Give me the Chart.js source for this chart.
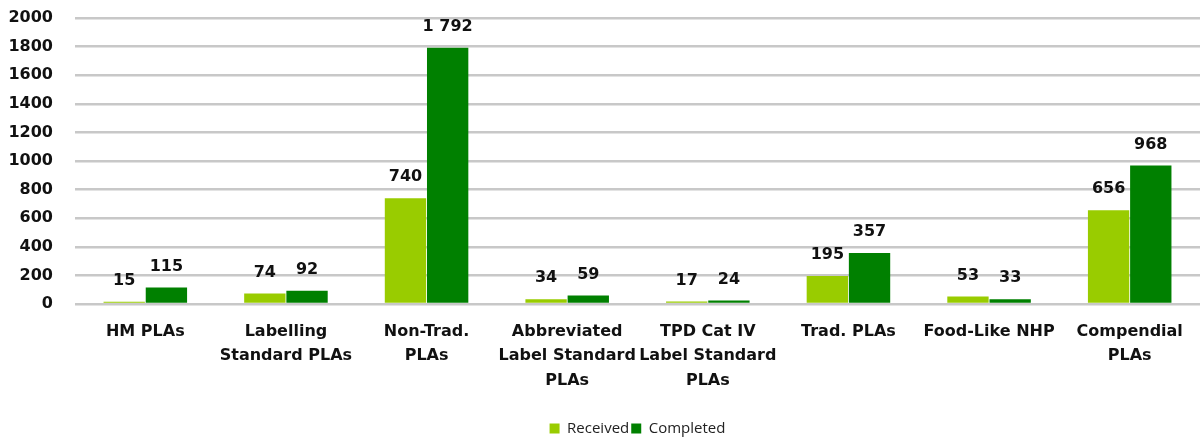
<!DOCTYPE html>
<html>
<head>
<meta charset="utf-8">
<script src="https://cdn.jsdelivr.net/npm/chart.js@4"></script>
<style>
  html, body { margin: 0; padding: 0; background: #fff; }
  #wrap { width: 1202px; height: 439px; }
</style>
</head>
<body>
<div id="wrap"><canvas id="plaChart"></canvas></div>
<script>
// Categories and values
const categories = [
    'HM PLAs',
    ['Labelling', 'Standard PLAs'],
    ['Non-Trad.', 'PLAs'],
    ['Abbreviated', 'Label Standard', 'PLAs'],
    ['TPD Cat IV', 'Label Standard', 'PLAs'],
    'Trad. PLAs',
    'Food-Like NHP',
    ['Compendial', 'PLAs']
];
const received = [15, 74, 740, 34, 17, 195, 53, 656];
const completed = [115, 92, 1792, 59, 24, 357, 33, 968];
const yTicks = [0, 200, 400, 600, 800, 1000, 1200, 1400, 1600, 1800, 2000];

const boldFont = { family: 'DejaVu Sans', size: 16, weight: 'bold' };

// Draw the value above each bar, with a space as thousands separator
const barLabels = {
    id: 'barLabels',
    afterDatasetsDraw(chart) {
        const ctx = chart.ctx;
        ctx.save();
        ctx.font = 'bold 16px "DejaVu Sans"';
        ctx.fillStyle = '#111';
        ctx.textAlign = 'center';
        ctx.textBaseline = 'bottom';
        chart.data.datasets.forEach((ds, i) => {
            chart.getDatasetMeta(i).data.forEach((bar, j) => {
                const txt = String(ds.data[j]).replace(/\B(?=(\d{3})+(?!\d))/g, ' ');
                ctx.fillText(txt, bar.x, bar.y - 13);
            });
        });
        ctx.restore();
    }
};

// Center the legend under the plot area and drop it a little lower
const legendUnderPlot = {
    id: 'legendUnderPlot',
    beforeDraw(chart) {
        const lg = chart.legend;
        if (lg) {
            lg.left = chart.chartArea.left;
            lg.right = chart.chartArea.right;
            lg.top = chart.height - 20;
        }
    }
};

new Chart(document.getElementById('plaChart').getContext('2d'), {
    type: 'bar',
    data: {
        labels: categories,
        datasets: [
            { label: 'Received', data: received, backgroundColor: '#99CC00' },
            { label: 'Completed', data: completed, backgroundColor: '#008000' }
        ]
    },
    options: {
        responsive: true,
        maintainAspectRatio: false,
        animation: false,
        layout: { autoPadding: false, padding: { top: 18, right: 2, left: 8, bottom: 0 } },
        datasets: {
            bar: { barPercentage: 0.98, categoryPercentage: 0.6 }
        },
        scales: {
            x: {
                grid: { display: false },
                border: { display: false },
                afterFit: (axis) => { axis.height = 108; },
                ticks: {
                    color: '#111',
                    font: { family: 'DejaVu Sans', size: 16, weight: 'bold', lineHeight: 1.55 },
                    maxRotation: 0,
                    autoSkip: false,
                    padding: 7
                }
            },
            y: {
                min: 0,
                max: 2000,
                afterBuildTicks: (axis) => { axis.ticks = yTicks.map(v => ({ value: v })); },
                afterFit: (axis) => {
                    axis.width = 67;
                    axis.paddingTop = 0;
                    axis.paddingBottom = 0;
                },
                grid: { color: '#c8c8c8', lineWidth: 2.5, drawTicks: false },
                border: { display: false },
                ticks: {
                    color: '#111',
                    font: boldFont,
                    padding: 22,
                    callback: (v) => String(v)
                }
            }
        },
        plugins: {
            legend: {
                position: 'bottom',
                labels: {
                    boxWidth: 10,
                    boxHeight: 10,
                    padding: 2,
                    color: '#222',
                    font: { family: 'Open Sans', size: 15 }
                }
            },
            tooltip: { enabled: false }
        }
    },
    plugins: [barLabels, legendUnderPlot]
});
</script>
</body>
</html>
